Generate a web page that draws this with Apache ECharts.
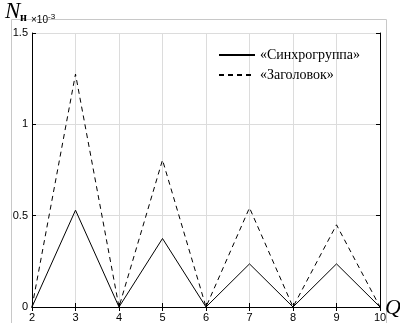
<!DOCTYPE html>
<html>
<head>
<meta charset="utf-8">
<script src="https://cdn.jsdelivr.net/npm/echarts@6/dist/echarts.min.js"></script>
<style>
  html, body { margin: 0; padding: 0; background: #fff; }
  #chart { width: 400px; height: 323px; }
</style>
</head>
<body>
<div id="chart"></div>
<script>
// значения по оси Q
var qValues = [2, 3, 4, 5, 6, 7, 8, 9, 10];
var syncGroup = [0, 0.53, 0, 0.375, 0, 0.236, 0, 0.236, 0];
var header = [0, 1.275, 0, 0.805, 0, 0.543, 0, 0.45, 0];
var yTicks = [0, 0.5, 1, 1.5];
var seriesNames = ["«Синхрогруппа»", "«Заголовок»"];

function pairs(vals) {
  return qValues.map(function (q, i) {
    return [q, vals[i]];
  });
}

var chart = echarts.init(document.getElementById("chart"));
var labelFont = { fontFamily: "Liberation Sans", fontSize: 11, color: "#000" };
var option = {
  animation: false,
  grid: { left: 32, right: 20, top: 33, bottom: 16 },
  legend: {
    orient: "vertical",
    left: 213,
    top: 43,
    itemWidth: 36,
    itemHeight: 10,
    itemGap: 6,
    data: seriesNames,
    itemStyle: { opacity: 0 },
    textStyle: { fontFamily: "Liberation Serif", fontSize: 14, color: "#000" },
  },
  xAxis: [
    {
      type: "value",
      min: 2,
      max: 10,
      interval: 1,
      axisLine: { show: true, onZero: false, lineStyle: { color: "#000", width: 1 } },
      axisTick: { show: true, inside: true, length: 4, lineStyle: { color: "#000" } },
      axisLabel: Object.assign({ margin: 5 }, labelFont),
      splitLine: { show: true, lineStyle: { color: "#dcdcdc", width: 1 } },
    },
    {
      type: "value",
      position: "top",
      min: 2,
      max: 10,
      interval: 1,
      axisLine: { show: true, lineStyle: { color: "#000", width: 1 } },
      axisTick: { show: true, inside: true, length: 4, lineStyle: { color: "#000" } },
      axisLabel: { show: false },
      splitLine: { show: false },
    },
  ],
  yAxis: [
    {
      type: "value",
      min: 0,
      max: 1.5,
      interval: 0.5,
      axisLine: { show: true, onZero: false, lineStyle: { color: "#000", width: 1 } },
      axisTick: { show: true, inside: true, length: 4, lineStyle: { color: "#000" } },
      axisLabel: Object.assign(
        {
          margin: 4,
          formatter: function (v) {
            return yTicks.indexOf(v) >= 0 ? String(v) : "";
          },
        },
        labelFont
      ),
      splitLine: { show: true, lineStyle: { color: "#dcdcdc", width: 1 } },
    },
    {
      type: "value",
      position: "right",
      min: 0,
      max: 1.5,
      interval: 0.5,
      axisLine: { show: true, lineStyle: { color: "#000", width: 1 } },
      axisTick: { show: true, inside: true, length: 4, lineStyle: { color: "#000" } },
      axisLabel: { show: false },
      splitLine: { show: false },
    },
  ],
  series: [
    {
      name: seriesNames[0],
      type: "line",
      data: pairs(syncGroup),
      symbol: "none",
      lineStyle: { color: "#000", width: 1, type: "solid" },
      itemStyle: { color: "#000" },
    },
    {
      name: seriesNames[1],
      type: "line",
      data: pairs(header),
      symbol: "none",
      lineStyle: { color: "#000", width: 1, type: [5, 4] },
      itemStyle: { color: "#000" },
    },
  ],
  graphic: [
    // серая рамка фигуры
    {
      type: "rect",
      shape: { x: 11.5, y: 19.5, width: 375, height: 320 },
      style: { fill: "none", stroke: "#c8c8c8", lineWidth: 1 },
      silent: true,
    },
    {
      type: "text",
      left: 5,
      top: 0,
      style: { text: "N", font: "italic 23px 'Liberation Serif'", fill: "#000" },
    },
    {
      type: "text",
      left: 20,
      top: 12,
      style: { text: "н", font: "bold 12px 'Liberation Serif'", fill: "#000" },
    },
    {
      type: "text",
      left: 31,
      top: 13,
      style: {
        rich: {
          a: { fontFamily: "Liberation Sans", fontSize: 10, fill: "#000" },
          b: { fontFamily: "Liberation Sans", fontSize: 8, fill: "#000", padding: [0, 0, 6, 0] },
        },
        text: "{a|×10}{b|-3}",
      },
    },
    {
      type: "text",
      left: 385,
      top: 297,
      style: { text: "Q", font: "italic 22px 'Liberation Serif'", fill: "#000" },
    },
  ],
};
chart.setOption(option);
</script>
</body>
</html>
